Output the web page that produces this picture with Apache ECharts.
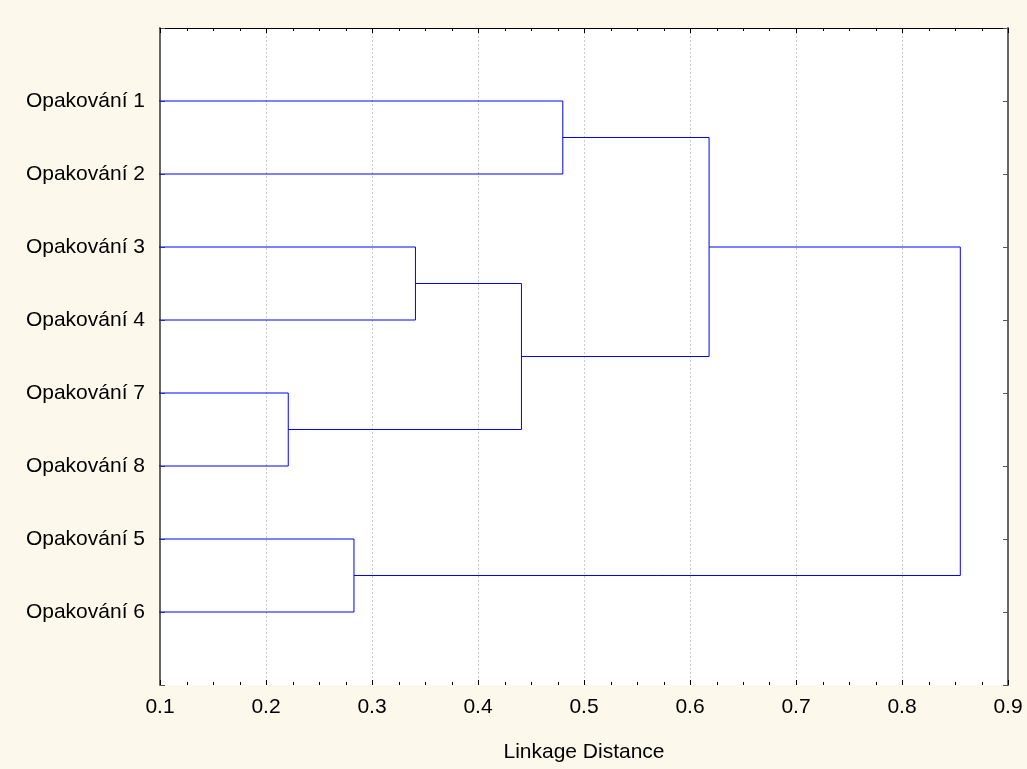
<!DOCTYPE html>
<html>
<head>
<meta charset="utf-8">
<script src="https://cdn.jsdelivr.net/npm/echarts@6/dist/echarts.min.js"></script>
<style>
html,body{margin:0;padding:0;background:#FDF8EC;}
#c{width:1027px;height:769px;}
</style>
</head>
<body>
<div id="c"></div>
<script>
// Leaves in display order (top to bottom)
const leafLabels = ['Opakování 1','Opakování 2','Opakování 3','Opakování 4','Opakování 7','Opakování 8','Opakování 5','Opakování 6'];
// Merges: [nodeA, nodeB, linkage distance]; new nodes numbered from 8 upward
const mergeA = [0, 2, 4, 6, 9, 8, 13];
const mergeB = [1, 3, 5, 7, 10, 12, 11];
const mergeHeight = [0.480, 0.341, 0.221, 0.283, 0.441, 0.618, 0.855];
const xTicks = [0.1,0.2,0.3,0.4,0.5,0.6,0.7,0.8,0.9];
const minorPerMajor = 4;

// node positions: x = height, y = row position
const nodeX = [], nodeY = [];
leafLabels.forEach((l,i)=>{ nodeX.push(0); nodeY.push(i+1); });
const series = [];
for (let k=0;k<mergeA.length;k++){
  const a=mergeA[k], b=mergeB[k], h=mergeHeight[k];
  series.push({
    type:'line', clip:true, symbol:'none', silent:true,
    lineStyle:{color:'#0000FF', width:1},
    data:[[nodeX[a],nodeY[a]],[h,nodeY[a]],[h,nodeY[b]],[nodeX[b],nodeY[b]]]
  });
  nodeX.push(h); nodeY.push((nodeY[a]+nodeY[b])/2);
}

// inward tick marks on top and bottom frame (major + minor), placed through the x scale
const tickMarks = [];
for (let i=0;i<xTicks.length;i++){
  tickMarks.push([xTicks[i], 1]);
  if (i<xTicks.length-1){
    for (let j=1;j<minorPerMajor;j++){
      tickMarks.push([xTicks[i]+(xTicks[i+1]-xTicks[i])*j/minorPerMajor, 0]);
    }
  }
}
series.push({
  type:'custom', silent:true, clip:false, z:10,
  data:tickMarks,
  renderItem:function(params, api){
    const x = Math.round(api.coord([api.value(0), 1])[0]) + 0.5;
    const r = params.coordSys;
    const len = api.value(1) ? 5 : 3;
    const st = {stroke:'#000', lineWidth:1};
    return {type:'group', children:[
      {type:'line', shape:{x1:x, y1:r.y, x2:x, y2:r.y+len}, style:st},
      {type:'line', shape:{x1:x, y1:r.y+r.height, x2:x, y2:r.y+r.height-len}, style:st}
    ]};
  }
});

const font = 'Liberation Sans, Arial, sans-serif';
const chart = echarts.init(document.getElementById('c'), null, {renderer:'canvas'});
function xAxisCfg(pos){
  return {
    type:'value', min:xTicks[0], max:xTicks[xTicks.length-1], interval:0.1,
    position:pos,
    axisTick:{show:false}, minorTick:{show:false}
  };
}
chart.setOption({
  backgroundColor:'#FDF8EC',
  animation:false,
  grid:{left:160, right:19, top:28, bottom:84, show:true, backgroundColor:'#FFFFFF', borderWidth:0},
  xAxis:[
    Object.assign(xAxisCfg('bottom'), {
      axisLine:{show:true, lineStyle:{color:'#333', width:1}},
      axisLabel:{show:true, color:'#000', fontSize:21, fontFamily:font, margin:12,
        formatter:v=>{ const t=xTicks.find(x=>Math.abs(x-v)<1e-6); return t===undefined?'':String(t); }},
      splitLine:{show:true, lineStyle:{color:'#C8C8C8', type:[2,2], width:1}},
      name:'Linkage Distance', nameLocation:'middle', nameGap:57,
      nameTextStyle:{color:'#000', fontSize:21, fontFamily:font}
    }),
    Object.assign(xAxisCfg('top'), {
      axisLine:{show:true, lineStyle:{color:'#000', width:1}},
      axisLabel:{show:false}, splitLine:{show:false}
    })
  ],
  yAxis:[
    {type:'value', min:0, max:leafLabels.length+1, interval:1, inverse:true, position:'left',
     axisLine:{show:true, lineStyle:{color:'#666', width:2}},
     axisTick:{show:true, inside:true, length:5, lineStyle:{color:'#555'}},
     axisLabel:{color:'#000', fontSize:21, fontFamily:font, margin:15,
       formatter:v=>(v>=1 && v<=leafLabels.length)?leafLabels[v-1]:''},
     splitLine:{show:false}},
    {type:'value', min:0, max:leafLabels.length+1, interval:1, inverse:true, position:'right',
     axisLine:{show:true, lineStyle:{color:'#666', width:2}},
     axisTick:{show:true, inside:true, length:5, lineStyle:{color:'#555'}},
     axisLabel:{show:false}, splitLine:{show:false}}
  ],
  series: series
});
</script>
</body>
</html>
